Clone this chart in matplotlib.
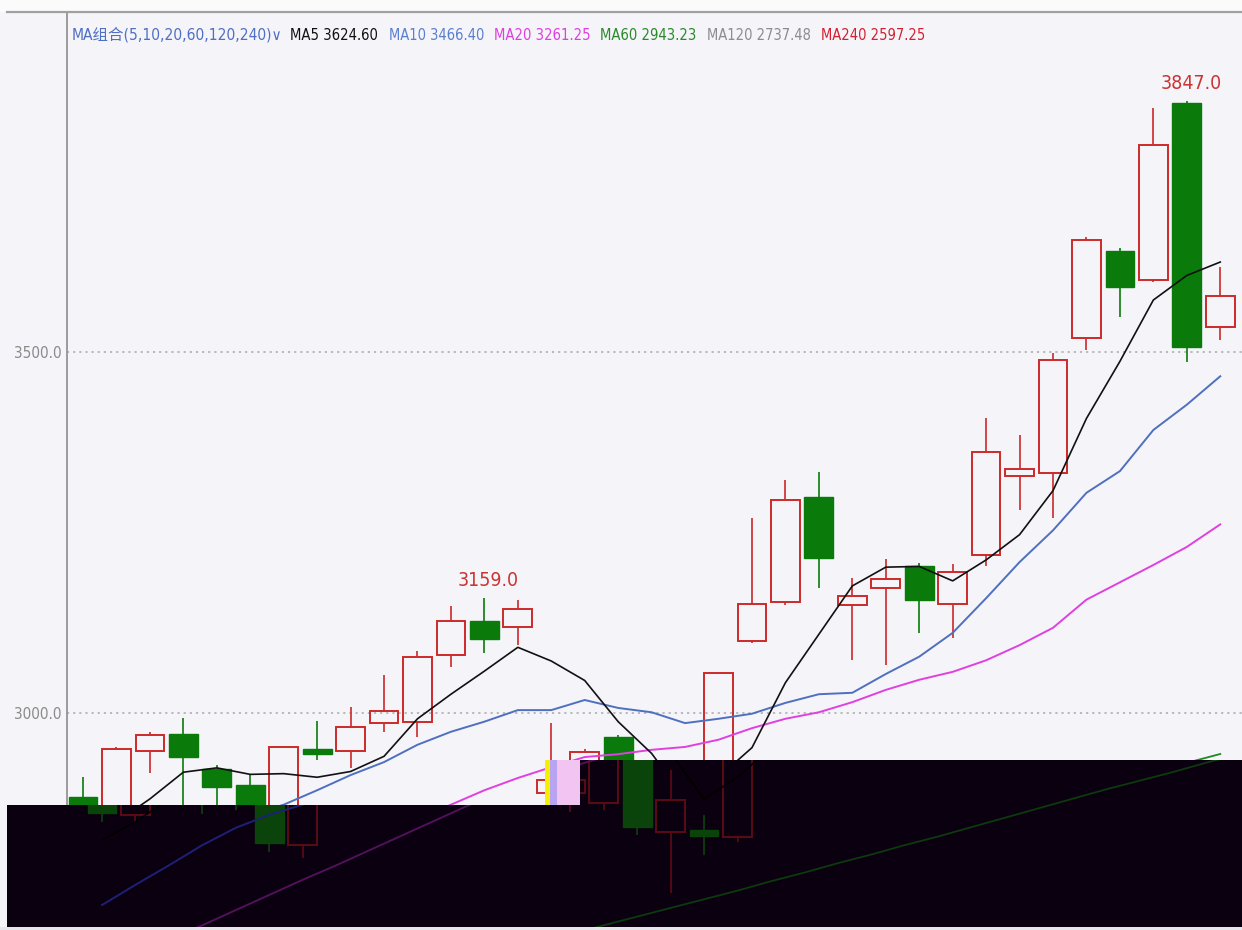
import matplotlib.pyplot as plt
import matplotlib.transforms as mtransforms
from matplotlib.patches import Polygon, Rectangle
import numpy as np

plt.rcParams['font.family'] = ['DejaVu Sans', 'Noto Sans CJK SC']
plt.rcParams['font.stretch'] = 'condensed'

# daily bars
opens = [2884, 2859, 2947, 2971, 2922, 2900, 2817, 2950, 2947, 2986,
         2988, 3080, 3127, 3119, 2889, 2875, 2967, 2835, 2838, 2828,
         3100, 3154, 3299, 3150, 3173, 3204, 3151, 3219, 3328, 3332,
         3519, 3640, 3600, 3845, 3535]
highs = [2911, 2953, 2974, 2993, 2928, 2916, 2954, 2989, 3008, 3053,
         3086, 3148, 3159, 3156, 2986, 2950, 2970, 2921, 2859, 3057,
         3270, 3323, 3334, 3187, 3213, 3208, 3206, 3409, 3385, 3499,
         3659, 3644, 3838, 3847, 3618]
lows = [2849, 2849, 2917, 2860, 2865, 2808, 2799, 2935, 2924, 2974,
        2967, 3064, 3083, 3094, 2863, 2866, 2831, 2751, 2803, 2821,
        3097, 3150, 3173, 3073, 3067, 3111, 3104, 3204, 3281, 3270,
        3503, 3548, 3597, 3486, 3517]
closes = [2862, 2950, 2970, 2939, 2898, 2820, 2953, 2943, 2981, 3003,
          3078, 3127, 3102, 3144, 2907, 2946, 2842, 2880, 2830, 3055,
          3151, 3295, 3215, 3162, 3186, 3157, 3195, 3361, 3338, 3489,
          3655, 3590, 3787, 3507, 3578]

ma5 = [2824, 2849, 2881, 2918, 2924, 2915, 2916, 2911, 2919, 2940,
       2992, 3026, 3058, 3091, 3072, 3045, 2988, 2944, 2881, 2911,
       2952, 3042, 3109, 3176, 3202, 3203, 3183, 3212, 3247, 3308,
       3408, 3487, 3572, 3606, 3624.60]
ma10 = [2734, 2762, 2789, 2817, 2841, 2859, 2873, 2893, 2914, 2932,
        2956, 2974, 2988, 3004, 3004, 3018, 3007, 3001, 2986, 2992,
        2999, 3014, 3026, 3028, 3054, 3078, 3111, 3159, 3209, 3253,
        3305, 3335, 3392, 3427, 3466.40]
ma20 = [2644, 2665, 2686, 2706, 2727, 2748, 2769, 2789, 2810, 2831,
        2852, 2873, 2893, 2910, 2925, 2939, 2943, 2949, 2953, 2963,
        2979, 2992, 3001, 3015, 3032, 3046, 3057, 3073, 3094, 3118,
        3157, 3181, 3205, 3230, 3261.25]
ma60 = [2522, 2534, 2546, 2558, 2570, 2582, 2594, 2607, 2619, 2631,
        2644, 2656, 2668, 2681, 2694, 2706, 2718, 2730, 2742, 2754,
        2767, 2779, 2792, 2804, 2817, 2829, 2842, 2855, 2868, 2881,
        2894, 2906, 2918, 2931, 2943.23]

legend_texts = ["MA组合(5,10,20,60,120,240)∨", "MA5 3624.60", "MA10 3466.40",
                "MA20 3261.25", "MA60 2943.23", "MA120 2737.48", "MA240 2597.25"]
legend_colors = ["#4f6fc4", "#111111", "#5a7fd0", "#e03ee0", "#2a8a2a", "#8c8c8c", "#d42030"]
legend_px = [72, 290, 389, 494, 600, 707, 821]
legend_w = [210, 88, 95, 96, 96, 104, 104]

peak_idx = [12, 33]
yticks = [3000, 3500]

BG = "#f4f4f9"
W, H = 1242, 930


def fx(px):
    return px / W


def fy(py):
    return 1 - py / H


fig = plt.figure(figsize=(W / 100, H / 100), dpi=100, facecolor=BG)
ax = fig.add_axes([fx(67), 0, fx(W - 67), (H - 12) / H])
ax.set_facecolor(BG)
ax.set_xlim(-0.478, 34.65)
ax.set_ylim(2699.45, 3970.9)
ax.autoscale(False)

for s in ["top", "right", "bottom"]:
    ax.spines[s].set_visible(False)
ax.spines["left"].set_color("#8c8c8c")
ax.spines["left"].set_linewidth(1.2)
ax.set_xticks([])
ax.set_yticks(yticks)
ax.set_yticklabels([f"{v:.1f}" for v in yticks], fontsize=11, color="#8a8a8a")
ax.tick_params(axis="y", length=0, pad=4)
for v in yticks:
    ax.axhline(v, color="#b4b4b4", lw=1.3, ls=(0, (1.2, 2.2)), zorder=1)

x = np.arange(len(closes))
o = np.array(opens, float)
c = np.array(closes, float)
h = np.array(highs, float)
l = np.array(lows, float)
up = c >= o
bw = 0.86


def draw_all(tr, red, green, line_cols, z, clip=None):
    arts = []
    arts.append(ax.vlines(x[~up], l[~up], h[~up], color=green, lw=1.2, zorder=z, transform=tr))
    arts += list(ax.bar(x[~up], (o - c)[~up], bottom=c[~up], width=bw, color=green,
                        edgecolor=green, lw=1.0, zorder=z + 0.1, transform=tr))
    arts.append(ax.vlines(x[up], c[up], h[up], color=red, lw=1.2, zorder=z, transform=tr))
    arts.append(ax.vlines(x[up], l[up], o[up], color=red, lw=1.2, zorder=z, transform=tr))
    arts += list(ax.bar(x[up], (c - o)[up], bottom=o[up], width=bw, facecolor="none",
                        edgecolor=red, lw=1.4, zorder=z + 0.1, transform=tr))
    for vals, col, lw in zip([ma60, ma20, ma10, ma5], line_cols, [1.3, 1.4, 1.4, 1.2]):
        arts += ax.plot(x, vals, color=col, lw=lw, zorder=z + 0.5, transform=tr)
    if clip is not None:
        for a in arts:
            a.set_clip_path(clip)


draw_all(ax.transData, "#cc2a2a", "#0a7a0a", ["#1f8a1f", "#e040e0", "#4f6fbf", "#111111"], 2)

for i in peak_idx:
    ax.annotate(f"{highs[i]:.1f}", (i, highs[i]), xytext=(3, 6), textcoords="offset points",
                ha="center", va="bottom", fontsize=14, color="#cc3333", zorder=5)

# top strip and separator
fig.patches.append(Rectangle((0, fy(12)), 1, 12 / H, transform=fig.transFigure,
                             facecolor="#fbfbfc", edgecolor="none", zorder=0))
fig.lines.append(plt.Line2D([fx(7), 1], [fy(12), fy(12)], transform=fig.transFigure,
                            color="#a0a0a0", lw=1.6))

# legend row, each piece fitted to the width it takes in the screenshot
renderer = fig.canvas.get_renderer()
for t, col, px, wpx in zip(legend_texts, legend_colors, legend_px, legend_w):
    txt = fig.text(fx(px), fy(35), t, color=col, fontsize=13, va="center", ha="left")
    cur = txt.get_window_extent(renderer).width
    txt.set_fontsize(13 * wpx / cur)

# dark corrupted band at the bottom of the screenshot
dark_pts = [(7, 805), (580, 805), (580, 760), (1242, 760), (1242, 927), (7, 927)]
dark = Polygon([(fx(a), fy(b)) for a, b in dark_pts], closed=True, transform=fig.transFigure,
               facecolor="#0b0010", edgecolor="none", zorder=10, clip_on=False)
ax.add_patch(dark)
shift = ax.transData + mtransforms.ScaledTranslation(0.19, 0, fig.dpi_scale_trans)
draw_all(shift, "#5c0c16", "#0a440a", ["#0c3a0c", "#52105a", "#1e2078", "#000000"], 11, clip=dark)

for a, b, col in [(545, 550, "#f4f000"), (550, 557, "#b8a4f0"), (557, 580, "#f2c4f2")]:
    ax.add_patch(Rectangle((fx(a), fy(805)), fx(b - a), 45 / H, transform=fig.transFigure,
                           facecolor=col, edgecolor="none", zorder=12, clip_on=False))
ax.add_patch(Rectangle((0, 0), 1, 3 / H, transform=fig.transFigure, facecolor="#e6e6ec",
                       edgecolor="none", zorder=12, clip_on=False))

fig.savefig("out.png", dpi=100, facecolor=BG)
